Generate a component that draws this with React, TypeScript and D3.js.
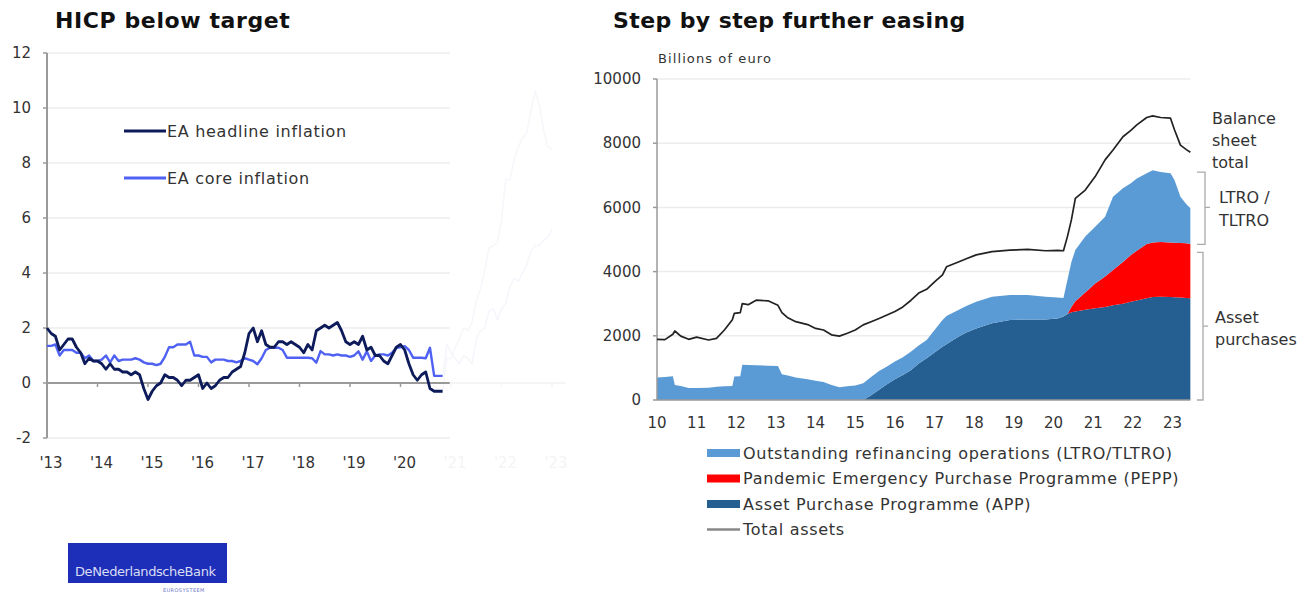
import React from "react";
import * as d3 from "d3";

// ---------- HICP panel data (monthly, Jan 2013 onwards) ----------
const hicpStartYear = 2013;
const headlineInflation = [
  2.0, 1.8, 1.7, 1.2, 1.4, 1.6, 1.6, 1.3, 1.1, 0.7, 0.9, 0.8,
  0.8, 0.7, 0.5, 0.7, 0.5, 0.5, 0.4, 0.4, 0.3, 0.4, 0.3, -0.2,
  -0.6, -0.3, -0.1, 0.0, 0.3, 0.2, 0.2, 0.1, -0.1, 0.1, 0.1, 0.2,
  0.3, -0.2, 0.0, -0.2, -0.1, 0.1, 0.2, 0.2, 0.4, 0.5, 0.6, 1.1,
  1.8, 2.0, 1.5, 1.9, 1.4, 1.3, 1.3, 1.5, 1.5, 1.4, 1.5, 1.4,
  1.3, 1.1, 1.4, 1.2, 1.9, 2.0, 2.1, 2.0, 2.1, 2.2, 1.9, 1.5,
  1.4, 1.5, 1.4, 1.7, 1.2, 1.3, 1.0, 1.0, 0.8, 0.7, 1.0, 1.3,
  1.4, 1.2, 0.7, 0.3, 0.1, 0.3, 0.4, -0.2, -0.3, -0.3, -0.3,
];
const coreInflation = [
  1.35, 1.35, 1.4, 1.0, 1.2, 1.2, 1.2, 1.1, 1.1, 0.9, 1.0, 0.8,
  0.8, 0.85, 1.0, 0.75, 1.0, 0.8, 0.85, 0.85, 0.85, 0.9, 0.85, 0.75,
  0.7, 0.7, 0.65, 0.7, 0.95, 1.3, 1.3, 1.4, 1.4, 1.4, 1.5, 1.0,
  1.0, 0.95, 0.95, 0.75, 0.85, 0.85, 0.85, 0.8, 0.8, 0.75, 0.8, 0.9,
  0.85, 0.8, 0.68, 0.9, 1.2, 1.28, 1.28, 1.28, 1.2, 0.92, 0.92, 0.92,
  0.92, 0.92, 0.92, 0.9, 0.74, 1.16, 1.04, 1.04, 1.0, 1.04, 1.0, 1.0,
  0.95, 1.0, 1.15, 0.85, 1.15, 0.8, 1.0, 1.04, 1.04, 1.0, 1.1, 1.28,
  1.3, 1.34, 1.2, 0.92, 0.92, 0.92, 0.9, 1.28, 0.26, 0.26, 0.26,
];
// faded continuation (Dec 2020 onwards), drawn behind the white veil
const headlineLater = [
  -0.3, 0.9, 0.9, 1.3, 1.6, 2.0, 1.9, 2.2, 3.0, 3.4, 4.1, 4.9, 5.0,
  5.1, 5.9, 7.4, 7.4, 8.1, 8.6, 8.9, 9.1, 9.9, 10.6, 10.1, 9.2, 8.6, 8.5,
];
const coreLater = [
  0.2, 1.4, 1.1, 0.9, 0.7, 1.0, 0.9, 0.7, 1.6, 1.9, 2.0, 2.6, 2.7,
  2.3, 2.7, 2.9, 3.5, 3.8, 3.7, 4.0, 4.3, 4.8, 5.0, 5.0, 5.2, 5.3, 5.6,
];
const hicpYTicks = [-2, 0, 2, 4, 6, 8, 10, 12];
const hicpYearLabels = ["'13", "'14", "'15", "'16", "'17", "'18", "'19", "'20", "'21", "'22", "'23"];
const hicpLegend = ["EA headline inflation", "EA core inflation"];

// ---------- Eurosystem balance sheet data (billions of euro) ----------
const bsDates = [
  2010.0, 2010.2, 2010.4, 2010.45, 2010.6, 2010.8, 2011.0, 2011.3, 2011.5, 2011.7,
  2011.9, 2011.95, 2012.1, 2012.15, 2012.3, 2012.5, 2012.8, 2013.05, 2013.15, 2013.3,
  2013.5, 2013.8, 2014.0, 2014.2, 2014.4, 2014.6, 2014.8, 2015.0, 2015.2, 2015.4,
  2015.6, 2015.8, 2016.0, 2016.2, 2016.4, 2016.6, 2016.8, 2017.0, 2017.2, 2017.3,
  2017.6, 2017.8, 2018.05, 2018.45, 2018.9, 2019.35, 2019.8, 2020.1, 2020.25, 2020.35,
  2020.45, 2020.55, 2020.8, 2021.05, 2021.3, 2021.5, 2021.75, 2021.95, 2022.1, 2022.35,
  2022.5, 2022.7, 2022.95, 2023.05, 2023.2, 2023.35, 2023.45,
];
const appHoldings = [
  0, 0, 0, 0, 0, 0, 0, 0, 0, 0,
  0, 0, 0, 0, 0, 0, 0, 0, 0, 0,
  0, 0, 0, 0, 0, 0, 0, 0, 0, 150,
  320, 490, 650, 780, 930, 1140, 1300, 1480, 1660, 1740,
  1970, 2100, 2230, 2390, 2490, 2510, 2510, 2540, 2600, 2680,
  2730, 2760, 2810, 2860, 2900, 2950, 3000, 3060, 3100, 3170,
  3210, 3220, 3210, 3200, 3190, 3180, 3170,
];
const peppHoldings = [
  0, 0, 0, 0, 0, 0, 0, 0, 0, 0,
  0, 0, 0, 0, 0, 0, 0, 0, 0, 0,
  0, 0, 0, 0, 0, 0, 0, 0, 0, 0,
  0, 0, 0, 0, 0, 0, 0, 0, 0, 0,
  0, 0, 0, 0, 0, 0, 0, 0, 0, 0,
  170, 320, 540, 770, 950, 1100, 1300, 1460, 1550, 1690,
  1700, 1700, 1700, 1700, 1700, 1700, 1690,
];
const refinancingOps = [
  700, 720, 740, 470, 440, 370, 370, 380, 410, 430,
  440, 730, 740, 1100, 1090, 1080, 1070, 1060, 800, 760,
  700, 650, 600, 560, 470, 400, 430, 450, 520, 570,
  580, 550, 550, 550, 570, 560, 570, 700, 830, 880,
  830, 830, 830, 830, 780, 760, 710, 650, 580, 1060,
  1400, 1590, 1740, 1770, 1860, 2280, 2300, 2230, 2250, 2200,
  2250, 2180, 2150, 1950, 1440, 1220, 1110,
];
const totalAssets = [
  1890, 1880, 2050, 2150, 1990, 1890, 1960, 1870, 1920, 2180,
  2500, 2700, 2720, 3000, 2970, 3110, 3090, 2950, 2720, 2560,
  2440, 2350, 2230, 2180, 2030, 1990, 2080, 2180, 2340, 2440,
  2540, 2650, 2760, 2900, 3100, 3330, 3450, 3680, 3900, 4150,
  4300, 4400, 4520, 4620, 4670, 4690, 4650, 4660, 4650, 5090,
  5610, 6280, 6540, 6960, 7480, 7790, 8200, 8400, 8570, 8800,
  8850, 8800, 8780, 8420, 7940, 7800, 7720,
];
const bsYTicks = [0, 2000, 4000, 6000, 8000, 10000];
const bsYearLabels = ["10", "11", "12", "13", "14", "15", "16", "17", "18", "19", "20", "21", "22", "23"];
const bsLegend = [
  "Outstanding refinancing operations (LTRO/TLTRO)",
  "Pandemic Emergency Purchase Programme (PEPP)",
  "Asset Purchase Programme (APP)",
  "Total assets",
];

const FONT = "'DejaVu Sans', Verdana, sans-serif";
const TEXT = "#333";
const GRID = "#ececec";
const AXIS = "#9a9a9a";
const NAVY = "#0d1b5a";
const CORE_BLUE = "#4f61f2";
const LIGHT_BLUE = "#5b9bd5";
const PEPP_RED = "#ff0000";
const APP_BLUE = "#255e91";

function HicpPanel() {
  const x = d3.scaleLinear().domain([2013, 2023]).range([47, 552]);
  const y = d3.scaleLinear().domain([-2, 12]).range([438, 53]);
  const plotRight = x(2020 + 11 / 12) + 3;
  const line = d3
    .line<number>()
    .x((_, i) => x(hicpStartYear + i / 12))
    .y((d) => y(d));
  const lateStart = hicpStartYear + (headlineInflation.length - 1) / 12;
  const lateLine = d3
    .line<number>()
    .x((_, i) => x(lateStart + i / 12))
    .y((d) => y(d));

  return (
    <g fontFamily={FONT}>
      <text x={55} y={28} fontSize={22} fontWeight="bold" fill="#111" letterSpacing={0.6}>
        HICP below target
      </text>
      {hicpYTicks.map((t) => (
        <g key={t}>
          {t !== 0 && (
            <line x1={x(2013)} x2={plotRight} y1={y(t)} y2={y(t)} stroke={GRID} strokeWidth={1.5} />
          )}
          <line x1={x(2013) - 4} x2={x(2013)} y1={y(t)} y2={y(t)} stroke={AXIS} strokeWidth={1.5} />
          <text x={31} y={y(t)} dy="0.35em" textAnchor="end" fontSize={15} fill={TEXT}>
            {t}
          </text>
        </g>
      ))}
      {/* faded post-2020 part */}
      <line x1={plotRight} x2={566} y1={y(0)} y2={y(0)} stroke="#f5f5f5" strokeWidth={2} />
      <path d={lateLine(coreLater) ?? ""} fill="none" stroke="#f5f6fb" strokeWidth={1.5} />
      <path d={lateLine(headlineLater) ?? ""} fill="none" stroke="#f6f7fb" strokeWidth={1.5} />
      {hicpYearLabels.map((lab, i) => {
        const faded = i >= 8;
        return (
          <g key={lab}>
            {i > 0 && (
              <line
                x1={x(2013 + i)}
                x2={x(2013 + i)}
                y1={y(0)}
                y2={y(0) + 4}
                stroke={faded ? "#f5f5f5" : AXIS}
                strokeWidth={1.5}
              />
            )}
            <text
              x={x(2013 + i) + 4}
              y={468}
              textAnchor="middle"
              fontSize={15}
              fill={faded ? "#f4f4f4" : TEXT}
            >
              {lab}
            </text>
          </g>
        );
      })}
      <line x1={x(2013)} x2={x(2013)} y1={y(12)} y2={y(-2)} stroke={AXIS} strokeWidth={2} />
      <line x1={x(2013)} x2={plotRight} y1={y(0)} y2={y(0)} stroke={AXIS} strokeWidth={2} />
      <path d={line(coreInflation) ?? ""} fill="none" stroke={CORE_BLUE} strokeWidth={2.4} strokeLinejoin="round" />
      <path d={line(headlineInflation) ?? ""} fill="none" stroke={NAVY} strokeWidth={2.8} strokeLinejoin="round" />
      {hicpLegend.map((lab, i) => {
        const ly = 131 + i * 47;
        return (
          <g key={lab}>
            <line x1={124} x2={166} y1={ly} y2={ly} stroke={i === 0 ? NAVY : CORE_BLUE} strokeWidth={3} />
            <text x={167} y={ly} dy="0.35em" fontSize={16} fill={TEXT} letterSpacing={0.7}>
              {lab}
            </text>
          </g>
        );
      })}
      {/* logo */}
      <rect x={68} y={543} width={159} height={40} fill="#1d2fb8" />
      <text x={75} y={576} fontSize={13} fill="#d9dcf5" letterSpacing={-0.4}>
        DeNederlandscheBank
      </text>
      <text x={163} y={592} fontSize={5} fill="#6c78c8" letterSpacing={0.4}>
        EUROSYSTEEM
      </text>
    </g>
  );
}

function BalanceSheetPanel() {
  const x = d3.scaleLinear().domain([2010, 2023]).range([657, 1172.5]);
  const y = d3.scaleLinear().domain([0, 10000]).range([400, 79]);
  const xEnd = x(bsDates[bsDates.length - 1]);

  const rows = bsDates.map((t, i) => ({
    t,
    app: appHoldings[i],
    pepp: peppHoldings[i],
    ltro: refinancingOps[i],
  }));
  const keys = ["app", "pepp", "ltro"];
  const stacked = d3.stack<any>().keys(keys)(rows);
  const fills: Record<string, string> = { app: APP_BLUE, pepp: PEPP_RED, ltro: LIGHT_BLUE };
  const area = d3
    .area<any>()
    .x((d) => x(d.data.t))
    .y0((d) => y(d[0]))
    .y1((d) => y(d[1]));
  const totalLine = d3
    .line<number>()
    .x((_, i) => x(bsDates[i]))
    .y((d) => y(d));

  const legendColors = [LIGHT_BLUE, PEPP_RED, APP_BLUE];

  return (
    <g fontFamily={FONT}>
      <text x={613} y={28} fontSize={22} fontWeight="bold" fill="#111" letterSpacing={0.4}>
        Step by step further easing
      </text>
      <text x={658} y={63} fontSize={13} fill={TEXT} letterSpacing={1.1}>
        Billions of euro
      </text>
      {bsYTicks.map((t) => (
        <g key={t}>
          {t > 0 && <line x1={x(2010)} x2={xEnd} y1={y(t)} y2={y(t)} stroke={GRID} strokeWidth={1.5} />}
          <line x1={x(2010) - 4} x2={x(2010)} y1={y(t)} y2={y(t)} stroke={AXIS} strokeWidth={1.5} />
          <text x={641} y={y(t)} dy="0.35em" textAnchor="end" fontSize={15} fill={TEXT}>
            {t}
          </text>
        </g>
      ))}
      {stacked.map((s) => (
        <path key={s.key} d={area(s as any) ?? ""} fill={fills[s.key]} />
      ))}
      <line x1={x(2010)} x2={x(2010)} y1={y(10000)} y2={y(0)} stroke={AXIS} strokeWidth={1.5} />
      <line x1={x(2010)} x2={xEnd} y1={y(0)} y2={y(0)} stroke={AXIS} strokeWidth={1.5} />
      <path d={totalLine(totalAssets) ?? ""} fill="none" stroke="#222" strokeWidth={1.7} strokeLinejoin="round" />
      {bsYearLabels.map((lab, i) => (
        <text key={lab} x={x(2010 + i)} y={428} textAnchor="middle" fontSize={15} fill={TEXT}>
          {lab}
        </text>
      ))}

      {/* annotations on the right */}
      <g fontSize={16} fill={TEXT}>
        <text x={1212} y={124}>Balance</text>
        <text x={1212} y={146}>sheet</text>
        <text x={1212} y={168}>total</text>
        <text x={1219} y={203}>LTRO /</text>
        <text x={1219} y={226}>TLTRO</text>
        <text x={1215} y={323}>Asset</text>
        <text x={1215} y={345}>purchases</text>
      </g>
      <g fill="none" stroke="#aaa" strokeWidth={1.3}>
        <path d={`M1197,${y(7100)} H1205 V${y(4850)} H1197 M1205,${y(6000)} H1210`} />
        <path d={`M1197,${y(4600)} H1203 V${y(0)} H1197 M1203,${y(2300)} H1208`} />
      </g>

      {/* legend */}
      {bsLegend.map((lab, i) => {
        const ly = 453 + i * 25.5;
        return (
          <g key={lab}>
            {i < 3 ? (
              <rect x={707} y={ly - 4} width={33} height={8} fill={legendColors[i]} />
            ) : (
              <line x1={707} x2={740} y1={ly} y2={ly} stroke="#888" strokeWidth={2.5} />
            )}
            <text x={743} y={ly} dy="0.35em" fontSize={16} fill={TEXT} letterSpacing={0.7}>
              {lab}
            </text>
          </g>
        );
      })}
    </g>
  );
}

export default function App() {
  return (
    <svg
      width={1307}
      height={593}
      viewBox="0 0 1307 593"
      style={{ position: "absolute", left: 0, top: 0, background: "#fff" }}
    >
      <rect width={1307} height={593} fill="#fff" />
      <HicpPanel />
      <BalanceSheetPanel />
    </svg>
  );
}
